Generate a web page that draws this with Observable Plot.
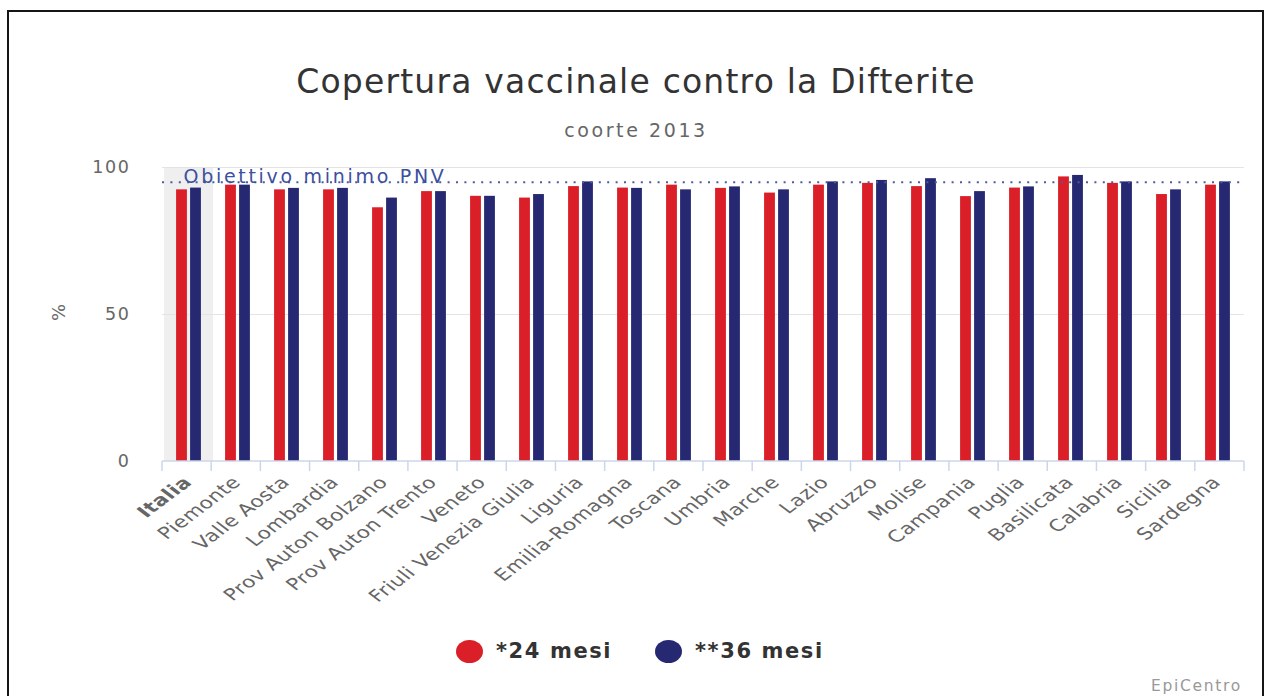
<!DOCTYPE html>
<html><head><meta charset="utf-8">
<script src="https://cdn.jsdelivr.net/npm/d3@7"></script>
<script src="https://cdn.jsdelivr.net/npm/@observablehq/plot@0.6"></script>
<style>
body{margin:0;background:#fff;font-family:"DejaVu Sans",sans-serif;}
#wrap{position:relative;width:1266px;height:696px;overflow:hidden;background:#fff;}
#border{position:absolute;left:7px;top:10px;width:1257px;height:720px;border:2.5px solid #151515;border-bottom:none;box-sizing:border-box;}
#title{position:absolute;left:0;width:1272px;top:62px;text-align:center;font-size:33px;color:#333;letter-spacing:1.2px;}
#subtitle{position:absolute;left:0;width:1272px;top:119px;text-align:center;font-size:19px;color:#666;letter-spacing:2.6px;}
#chart{position:absolute;left:0;top:150px;}
#ylab{position:absolute;left:50px;top:302px;font-size:18px;color:#666;transform:rotate(-90deg);transform-origin:center;}
#legend{position:absolute;top:639px;left:0;width:1266px;height:30px;}
.li{position:absolute;display:flex;align-items:center;font-size:21px;font-weight:bold;color:#333;letter-spacing:1.6px;}
.dot{width:27px;height:23px;border-radius:50%;margin-right:13px;}
#credit{position:absolute;left:1151px;top:677px;font-size:15.5px;color:#999;letter-spacing:1.7px;}
</style></head>
<body>
<div id="wrap">
  <div id="border"></div>
  <div id="title"></div>
  <div id="subtitle"></div>
  <div id="chart"></div>
  <div id="ylab">%</div>
  <div id="legend"></div>
  <div id="credit">EpiCentro</div>
</div>
<script>
const titleText = "Copertura vaccinale contro la Difterite";
const subtitleText = "coorte 2013";
const regions = ["Italia","Piemonte","Valle Aosta","Lombardia","Prov Auton Bolzano","Prov Auton Trento","Veneto","Friuli Venezia Giulia","Liguria","Emilia-Romagna","Toscana","Umbria","Marche","Lazio","Abruzzo","Molise","Campania","Puglia","Basilicata","Calabria","Sicilia","Sardegna"];
const mesi24 = [92.4,94.0,92.4,92.4,86.3,91.8,90.2,89.6,93.5,93.0,94.0,92.9,91.3,94.0,94.6,93.5,90.1,93.0,96.8,94.6,90.8,94.0];
const mesi36 = [93.0,94.0,92.9,92.9,89.6,91.8,90.2,90.8,95.1,92.9,92.4,93.4,92.4,95.1,95.6,96.2,91.8,93.4,97.3,95.1,92.4,95.1];
const seriesNames = ["*24 mesi","**36 mesi"];
const seriesColors = ["#da1f28","#262971"];
const target = 95;
const targetLabel = "Obiettivo minimo PNV";
const yTicks = [0,50,100];
const gridTicks = [50,100];
const highlight = ["Italia"];

document.getElementById("title").textContent = titleText;
document.getElementById("subtitle").textContent = subtitleText;

const data = regions.flatMap((r,i)=>[
  {region:r, series:seriesNames[0], value:mesi24[i]},
  {region:r, series:seriesNames[1], value:mesi36[i]}
]);

const W = 1266, H = 480, mL = 162, mR = 22, mT = 17, mB = 169;
const bw = (W - mL - mR) / regions.length;
const barW = 11, gap = 3;
const off = (bw - (2*barW + gap)) / 2;

const plot = Plot.plot({
  width: W, height: H,
  marginLeft: mL, marginRight: mR, marginTop: mT, marginBottom: mB,
  style: {fontFamily: '"DejaVu Sans", sans-serif', background: "transparent"},
  x: {domain: regions, padding: 0, axis: null},
  y: {domain: [0, 100], axis: null},
  color: {domain: seriesNames, range: seriesColors},
  marks: [
    Plot.barY(highlight, {x: d=>d, y: 100, fill: "#efefef"}),
    Plot.gridY(gridTicks, {stroke: "#e4e4e4", strokeOpacity: 1, strokeWidth: 1.2}),
    Plot.axisY(yTicks, {tickSize: 0, tickPadding: 32, fontSize: 17.5, color: "#666", label: null}),
    Plot.barY(data.filter(d=>d.series===seriesNames[0]), {x: "region", y: "value", fill: "series", insetLeft: off, insetRight: bw - off - barW}),
    Plot.barY(data.filter(d=>d.series===seriesNames[1]), {x: "region", y: "value", fill: "series", insetLeft: off + barW + gap, insetRight: off}),
    Plot.ruleY([target], {stroke: "#4d5ba0", strokeDasharray: "2,6.4", strokeWidth: 2}),
    Plot.text([target], {y: d=>d, text: ()=>targetLabel, frameAnchor: "left", textAnchor: "start", lineAnchor: "bottom", dx: 21, dy: 1, fontSize: 19, fill: "#3d4f9f"}),
    Plot.text(regions.filter(r=>!highlight.includes(r)), {x: d=>d, text: d=>d, frameAnchor: "bottom", rotate: -45, textAnchor: "end", lineAnchor: "middle", dx: -1, dy: 18, fontSize: 16.5, fill: "#666"}),
    Plot.text(highlight, {x: d=>d, text: d=>d, frameAnchor: "bottom", rotate: -45, textAnchor: "end", lineAnchor: "middle", dx: -1, dy: 18, fontSize: 16.5, fontWeight: "bold", fill: "#666"})
  ]
});
document.getElementById("chart").appendChild(plot);

const svg = d3.select(plot.tagName.toLowerCase() === "svg" ? plot : plot.querySelector("svg"));
// the reference's type is drawn broad: widen lettering, and stretch the slanted labels sideways
svg.selectAll("text").each(function() {
  const t = this.textContent;
  const s = d3.select(this);
  if (t === targetLabel) s.attr("letter-spacing", "2.7px");
  else if (yTicks.map(String).includes(t)) s.attr("letter-spacing", "1.6px");
  else if (regions.includes(t)) {
    s.attr("letter-spacing", "0.4px");
    const tr = s.attr("transform");
    if (tr && tr.includes("rotate")) s.attr("transform", tr.replace(/rotate\(/, "scale(1.32,1) rotate("));
  }
});

// category axis line and boundary ticks, positioned from the plot's own x scale
const sx = plot.scale("x");
const step = (sx.range[1] - sx.range[0]) / regions.length;
const bounds = d3.range(regions.length + 1).map(i => sx.range[0] + i * step);
const y0 = H - mB;
const g = svg.append("g").attr("stroke", "#ccd6eb").attr("stroke-width", 1.5);
g.append("line").attr("x1", bounds[0]).attr("x2", bounds[bounds.length-1]).attr("y1", y0).attr("y2", y0);
g.selectAll("line.t").data(bounds).join("line").attr("class","t")
  .attr("x1", d=>d).attr("x2", d=>d).attr("y1", y0).attr("y2", y0 + 10);

// legend
const legend = document.getElementById("legend");
const legendX = [456, 655];
seriesNames.forEach((s, i) => {
  const it = document.createElement("div");
  it.className = "li";
  it.style.left = legendX[i] + "px";
  it.innerHTML = `<span class="dot" style="background:${seriesColors[i]}"></span><span>${s}</span>`;
  legend.appendChild(it);
});
</script>
</body></html>
